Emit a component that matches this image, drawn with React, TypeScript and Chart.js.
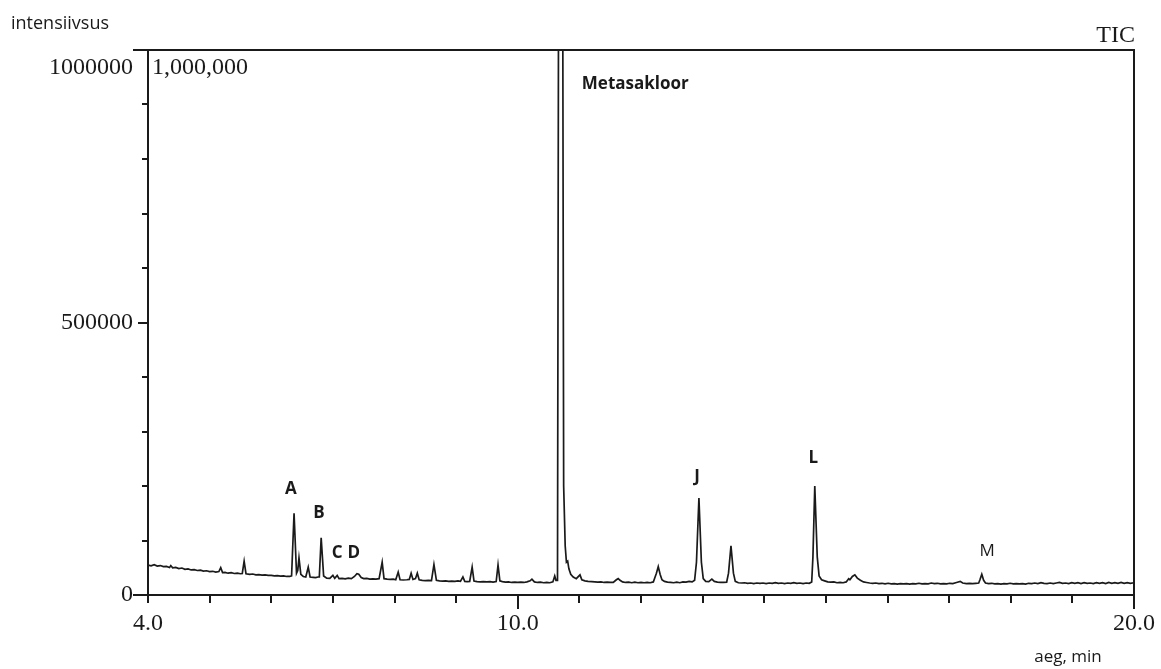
import React, { useEffect, useRef } from "react";
import { Chart, registerables } from "chart.js";

Chart.register(...registerables);

// ---- axis ranges and tick labels ----
const X_MIN = 4;
const X_MAX = 20;
const X_STEP = 1;
const Y_MIN = 0;
const Y_MAX = 1000000;
const Y_STEP = 100000;
const xMajorTicks = [10, 20];
const xTickText: Record<number, string> = { 4: "4.0", 10: "10.0", 20: "20.0" };
const yTickText: Record<number, string> = { 0: "0", 500000: "500000" };
const yTopTickText = "1000000";
const fullScaleNote = "1,000,000";
const yTitle = "intensiivsus";
const xTitle = "aeg, min";
const traceName = "TIC";

// ---- peak annotations (time in min, intensity level of label) ----
const mainPeakName = "Metasakloor";
const mainPeakLabelTime = 11.04;
const mainPeakLabelLevel = 937000;
const peakNames = ["A", "B", "C", "D", "J", "L", "M"];
const peakLabelTimes = [6.32, 6.775, 7.07, 7.34, 12.91, 14.795, 17.615];
const peakLabelLevels = [194000, 150000, 77000, 77000, 216000, 251000, 81000];
const peakLabelBold = [true, true, true, true, true, true, false];

// ---- TIC trace: [retention time (min), intensity] ----
const ticTrace: [number, number][] = [
  [4.0, 55000], [4.05, 53500], [4.1, 55500], [4.15, 53000], [4.2, 54000], [4.25, 52000],
  [4.3, 52500], [4.35, 50500], [4.37, 54000], [4.4, 50000], [4.45, 50500], [4.5, 48500],
  [4.55, 49500], [4.6, 47000], [4.65, 48000], [4.7, 46000], [4.75, 46500], [4.8, 45000],
  [4.85, 45500], [4.9, 44000], [4.95, 44500], [5.0, 43000], [5.05, 43500], [5.1, 42000],
  [5.15, 43000], [5.18, 50000], [5.21, 41000], [5.25, 41500], [5.3, 40000], [5.35, 41000],
  [5.4, 39500], [5.45, 40000], [5.5, 39000], [5.53, 39500], [5.56, 62000], [5.59, 39000],
  [5.65, 38000], [5.7, 38500], [5.75, 37000], [5.8, 37500], [5.85, 36500], [5.9, 37000],
  [5.95, 36000], [6.0, 36000], [6.05, 35000], [6.1, 35500], [6.15, 34500], [6.2, 35000],
  [6.25, 34000], [6.3, 34000],
  [6.33, 35000], [6.37, 150000], [6.41, 40000], [6.43, 45000], [6.45, 68000], [6.48, 38000],
  [6.52, 34000], [6.56, 33000], [6.6, 51000], [6.63, 33000], [6.68, 32500], [6.72, 32000],
  [6.76, 33000],
  [6.78, 33000], [6.81, 105000], [6.85, 35000], [6.9, 31000], [6.95, 30500], [7.0, 36000],
  [7.03, 30500], [7.07, 36000], [7.1, 30000], [7.15, 30500], [7.2, 29500], [7.25, 31000],
  [7.3, 30000], [7.35, 34000], [7.39, 39000], [7.42, 38000], [7.46, 32000], [7.5, 30000],
  [7.55, 30500], [7.6, 29000], [7.65, 29500], [7.7, 29000], [7.75, 30000], [7.8, 60000],
  [7.83, 30000], [7.88, 29000], [7.93, 28500], [7.98, 29000], [8.02, 28000], [8.06, 42000],
  [8.09, 28000], [8.14, 27500], [8.2, 28000], [8.24, 28500], [8.27, 40000], [8.3, 28500],
  [8.34, 30000], [8.37, 40000], [8.4, 28000], [8.45, 27000], [8.5, 26500], [8.55, 27000],
  [8.6, 26500], [8.64, 56000], [8.68, 27000], [8.73, 26000], [8.78, 25500], [8.83, 26000],
  [8.88, 25000], [8.93, 25500], [8.98, 25000], [9.03, 26000], [9.07, 25000], [9.11, 33000],
  [9.14, 25000], [9.18, 24500], [9.22, 25000], [9.26, 51000], [9.29, 25500], [9.34, 24500],
  [9.39, 24000], [9.44, 24500], [9.5, 24000], [9.55, 24500], [9.6, 23500], [9.65, 24500],
  [9.68, 55000], [9.71, 26000], [9.75, 24500], [9.8, 23500], [9.85, 24000], [9.9, 23000],
  [9.95, 23500], [10.0, 23000], [10.05, 23500], [10.1, 23000], [10.15, 24000], [10.2, 26000],
  [10.23, 29000], [10.27, 24000], [10.32, 23000], [10.37, 23500], [10.42, 22500], [10.47, 23000],
  [10.52, 22500], [10.57, 24000], [10.6, 35000], [10.62, 27000], [10.645, 27000],
  [10.695, 3200000], [10.745, 200000], [10.77, 90000], [10.79, 60000], [10.81, 62000],
  [10.83, 48000], [10.86, 38000], [10.9, 33000], [10.95, 30000], [11.01, 37000], [11.04, 28000],
  [11.09, 26000], [11.14, 25000], [11.2, 24500], [11.25, 24000], [11.3, 23500], [11.35, 24000],
  [11.4, 23000], [11.45, 23500], [11.5, 23000], [11.55, 23000], [11.6, 28000], [11.63, 30000],
  [11.66, 27000], [11.7, 24000], [11.75, 23000], [11.8, 23500], [11.85, 22500], [11.9, 23500],
  [11.95, 22500], [12.0, 23000], [12.05, 22500], [12.1, 23000], [12.15, 22500], [12.2, 24000],
  [12.25, 40000], [12.28, 52000], [12.31, 38000], [12.34, 28000], [12.38, 25000], [12.43, 23500],
  [12.48, 23000], [12.53, 22500], [12.58, 23500], [12.63, 22500], [12.68, 24000], [12.73, 23500],
  [12.78, 25000], [12.83, 24000], [12.87, 27000],
  [12.9, 60000], [12.94, 178000], [12.98, 60000], [13.01, 30000], [13.05, 25000], [13.1, 24500],
  [13.15, 29000], [13.19, 25000], [13.24, 23500], [13.29, 23000], [13.34, 23000], [13.39, 23500],
  [13.42, 40000], [13.46, 90000], [13.5, 40000], [13.53, 25000], [13.58, 22500], [13.63, 22000],
  [13.68, 22500], [13.73, 21500], [13.78, 22000], [13.83, 21000], [13.88, 22000], [13.93, 21500],
  [13.98, 22000], [14.03, 21000], [14.08, 22000], [14.13, 21500], [14.18, 22500], [14.23, 21500],
  [14.28, 22000], [14.33, 21000], [14.38, 22000], [14.43, 21500], [14.48, 22500], [14.53, 21500],
  [14.58, 22000], [14.63, 21000], [14.68, 22000], [14.73, 21500], [14.77, 24000],
  [14.79, 70000], [14.82, 200000], [14.86, 70000], [14.89, 35000], [14.93, 28000], [14.98, 26000],
  [15.03, 24000], [15.08, 23500], [15.13, 24000], [15.18, 22500], [15.23, 23000], [15.28, 22500],
  [15.33, 24000], [15.37, 30000], [15.39, 28000], [15.43, 34000], [15.47, 37000], [15.51, 31000],
  [15.56, 27000], [15.61, 24000], [15.66, 23000], [15.71, 22000], [15.76, 21500], [15.81, 22000],
  [15.86, 21000], [15.91, 21500], [15.96, 20500], [16.01, 21500], [16.06, 20500], [16.11, 21000],
  [16.16, 20000], [16.21, 21000], [16.26, 20500], [16.31, 21000], [16.36, 20000], [16.41, 21000],
  [16.46, 20500], [16.51, 21500], [16.56, 20500], [16.61, 21000], [16.66, 20500], [16.71, 22000],
  [16.76, 21000], [16.81, 21500], [16.86, 20500], [16.91, 21000], [16.96, 20500], [17.01, 21500],
  [17.06, 21000], [17.12, 23000], [17.18, 25000], [17.22, 22000], [17.28, 21000], [17.33, 21500],
  [17.38, 21000], [17.43, 21500], [17.48, 22000],
  [17.5, 28000], [17.53, 38000], [17.56, 27000], [17.59, 22000], [17.64, 21000], [17.69, 21500],
  [17.74, 20500], [17.79, 21000], [17.84, 20000], [17.89, 21000], [17.94, 20500], [17.99, 21500],
  [18.04, 20500], [18.09, 21000], [18.14, 20500], [18.19, 21000], [18.24, 20000], [18.29, 21500],
  [18.34, 21000], [18.39, 22000], [18.44, 21000], [18.49, 22500], [18.54, 21500], [18.59, 21000],
  [18.64, 22000], [18.69, 21000], [18.74, 22000], [18.79, 23000], [18.84, 21500], [18.89, 22000],
  [18.94, 21000], [18.99, 22500], [19.04, 21500], [19.09, 22500], [19.14, 21000], [19.19, 22500],
  [19.24, 21500], [19.29, 22000], [19.34, 21000], [19.39, 22500], [19.44, 21500], [19.49, 22500],
  [19.54, 21000], [19.59, 23000], [19.64, 21500], [19.69, 22500], [19.74, 21500], [19.79, 23000],
  [19.84, 21500], [19.89, 22500], [19.94, 21500], [20.0, 22500],
];

const INK = "#1a1a1a";
const SERIF = '"Liberation Serif", "Times New Roman", serif';
const SANS = '"Open Sans", "Noto Sans", sans-serif';

const decorPlugin = {
  id: "decor",
  afterDatasetsDraw(chart: any) {
    const { ctx, chartArea: a, scales } = chart;
    const x = scales.x;
    const y = scales.y;
    ctx.save();
    ctx.strokeStyle = INK;
    ctx.lineWidth = 2;
    ctx.lineCap = "butt";
    ctx.beginPath();
    // frame: top + right
    ctx.moveTo(a.left - 15, a.top);
    ctx.lineTo(a.right, a.top);
    ctx.lineTo(a.right, a.bottom + 14);
    // left axis
    ctx.moveTo(a.left, a.top);
    ctx.lineTo(a.left, a.bottom + 8);
    // bottom axis
    ctx.moveTo(a.left - 15, a.bottom);
    ctx.lineTo(a.right, a.bottom);
    // x ticks
    for (let v = X_MIN + X_STEP; v < X_MAX; v += X_STEP) {
      const px = Math.round(x.getPixelForValue(v));
      const len = xMajorTicks.includes(v) ? 14 : 8;
      ctx.moveTo(px, a.bottom);
      ctx.lineTo(px, a.bottom + len);
    }
    // y ticks
    for (let v = Y_MIN + Y_STEP; v < Y_MAX; v += Y_STEP) {
      const py = Math.round(y.getPixelForValue(v));
      const len = v === 500000 ? 10 : 6;
      ctx.moveTo(a.left, py);
      ctx.lineTo(a.left - len, py);
    }
    ctx.stroke();
    ctx.restore();
  },
  afterDraw(chart: any) {
    const { ctx, chartArea: a, scales } = chart;
    const x = scales.x;
    const y = scales.y;
    ctx.save();
    ctx.fillStyle = INK;
    ctx.textBaseline = "middle";

    // serif texts
    ctx.font = `24px ${SERIF}`;
    ctx.textAlign = "right";
    ctx.fillText(yTopTickText, a.left - 15, a.top + 18);
    ctx.textAlign = "left";
    ctx.fillText(fullScaleNote, a.left + 4, a.top + 18);
    ctx.textAlign = "right";
    ctx.fillText(traceName, a.right + 1, a.top - 14);

    // axis titles
    ctx.font = `18px ${SANS}`;
    ctx.textAlign = "left";
    ctx.fillText(yTitle, 11, 24);
    ctx.font = `17px ${SANS}`;
    ctx.textAlign = "center";
    ctx.fillText(xTitle, 1068, 657);

    // main peak label
    ctx.font = `bold 17px ${SANS}`;
    ctx.textAlign = "left";
    ctx.fillText(mainPeakName, x.getPixelForValue(mainPeakLabelTime), y.getPixelForValue(mainPeakLabelLevel));

    // peak letters
    ctx.textAlign = "center";
    peakNames.forEach((name, i) => {
      ctx.font = `${peakLabelBold[i] ? "bold " : ""}17px ${SANS}`;
      ctx.fillText(name, x.getPixelForValue(peakLabelTimes[i]), y.getPixelForValue(peakLabelLevels[i]));
    });
    ctx.restore();
  },
};

export default function App() {
  const canvasRef = useRef<HTMLCanvasElement | null>(null);

  useEffect(() => {
    const canvas = canvasRef.current;
    if (!canvas) return;
    const chart = new Chart(canvas, {
      type: "line",
      data: {
        datasets: [
          {
            label: traceName,
            data: ticTrace.map(([t, v]) => ({ x: t, y: v })),
            borderColor: INK,
            borderWidth: 1.7,
            pointRadius: 0,
            tension: 0,
            fill: false,
          },
        ],
      },
      options: {
        responsive: false,
        animation: false,
        devicePixelRatio: 1,
        layout: { padding: { left: 0, right: 27, top: 50, bottom: 0 } },
        plugins: {
          legend: { display: false },
          tooltip: { enabled: false },
          title: { display: false },
        },
        scales: {
          x: {
            type: "linear",
            min: X_MIN,
            max: X_MAX,
            border: { display: false },
            grid: { display: false, drawTicks: false },
            ticks: {
              stepSize: X_STEP,
              autoSkip: false,
              maxRotation: 0,
              padding: 14,
              color: INK,
              font: { family: SERIF, size: 24 },
              callback: (v: any) => (xTickText[Number(v)] !== undefined ? xTickText[Number(v)] : ""),
            },
            afterFit: (s: any) => {
              s.height = 74;
              s.paddingLeft = 0;
              s.paddingRight = 0;
            },
          },
          y: {
            type: "linear",
            min: Y_MIN,
            max: Y_MAX,
            border: { display: false },
            grid: { display: false, drawTicks: false },
            ticks: {
              stepSize: Y_STEP,
              autoSkip: false,
              padding: 15,
              color: INK,
              font: { family: SERIF, size: 24 },
              callback: (v: any) => (yTickText[Number(v)] !== undefined ? yTickText[Number(v)] : ""),
            },
            afterFit: (s: any) => {
              s.width = 148;
              s.paddingTop = 0;
              s.paddingBottom = 0;
            },
          },
        },
      },
      plugins: [decorPlugin],
    });
    return () => chart.destroy();
  }, []);

  return (
    <div style={{ position: "absolute", left: 0, top: 0, width: 1161, height: 669, background: "#fff" }}>
      <canvas ref={canvasRef} width={1161} height={669} style={{ display: "block" }} />
    </div>
  );
}
